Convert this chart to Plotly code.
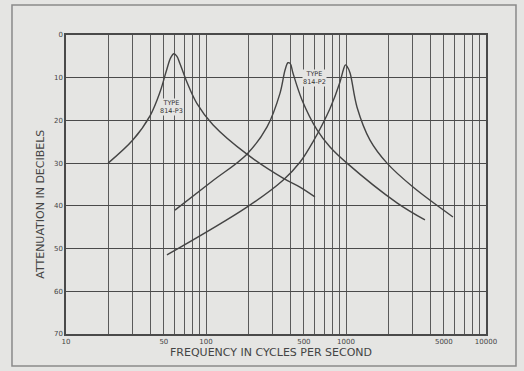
import numpy as np
import plotly.graph_objects as go

# Attenuation curves for three filter types (frequency in c/s, attenuation in dB)
p3_freq = [20, 30, 40, 47, 52, 56, 59, 62, 65, 73, 86, 112, 196, 355, 469, 600]
p3_db = [30.0, 24.6, 18.8, 13.3, 8.5, 5.3, 4.4, 5.0, 6.6, 11.0, 16.0, 21.0, 27.9, 33.5, 35.6, 37.9]

p2_freq = [60, 110, 196, 273, 338, 367, 385, 400, 418, 485, 621, 769, 1016, 2312, 3664]
p2_db = [41.0, 34.3, 27.9, 21.5, 13.6, 8.2, 6.5, 6.7, 8.9, 15.2, 22.2, 26.2, 30.0, 39.3, 43.3]

p1_freq = [52.6, 196, 355, 469, 581, 769, 906, 960, 990, 1020, 1069, 1199, 1484, 1963, 3010, 5808]
p1_db = [51.5, 40.3, 34.0, 29.8, 25.0, 17.2, 11.0, 8.0, 7.0, 7.4, 8.9, 16.9, 24.6, 30.0, 35.6, 42.6]

# Log-paper grid: every integer multiple in each decade, labels only at a few
grid_vals = [m * 10 ** d for d in range(1, 4) for m in range(1, 10)] + [10000]
labelled = {10: "10", 50: "50", 100: "100", 500: "500", 1000: "1000", 5000: "5000", 10000: "10000"}
grid_text = [labelled.get(v, "") for v in grid_vals]

db_ticks = [0, 10, 20, 30, 40, 50, 60, 70]

ink = "#444444"
paper = "#e5e5e3"

fig = go.Figure()
for fx, dy in [(p3_freq, p3_db), (p2_freq, p2_db), (p1_freq, p1_db)]:
    fig.add_trace(go.Scatter(
        x=fx, y=dy, mode="lines",
        line=dict(color=ink, width=1.4, shape="spline", smoothing=1.0),
        hoverinfo="skip", showlegend=False,
    ))

type_font = dict(size=6.5, color="#333333", family="DejaVu Sans")
fig.add_annotation(x=np.log10(57), y=16.9, text="TYPE<br>814-P3", showarrow=False,
                   font=type_font, bgcolor=paper, borderpad=0)
fig.add_annotation(x=np.log10(600), y=10.1, text="TYPE<br>814-P2", showarrow=False,
                   font=type_font, bgcolor=paper, borderpad=0)

# Axis titles
fig.add_annotation(xref="paper", yref="paper", x=-0.06, y=0.435, textangle=-90,
                   xanchor="center", yanchor="middle",
                   text="ATTENUATION IN DECIBELS", showarrow=False,
                   font=dict(size=11, color=ink, family="DejaVu Sans"))
fig.add_annotation(xref="paper", yref="paper", x=0.487, y=-0.063,
                   xanchor="center", yanchor="middle",
                   text="FREQUENCY IN CYCLES PER SECOND", showarrow=False,
                   font=dict(size=11, color=ink, family="DejaVu Sans"))

# Outer frame around the whole figure
fig.add_shape(type="rect", xref="paper", yref="paper",
              x0=-0.1286, x1=1.0714, y0=-0.107, y1=1.1,
              line=dict(color="#8a8a8a", width=1.5), layer="below")

fig.update_xaxes(
    type="log", range=[1, 4],
    tickmode="array", tickvals=grid_vals, ticktext=grid_text,
    showgrid=True, gridcolor="#5a5a5a", gridwidth=1,
    showline=True, linecolor="#4a4a4a", linewidth=1.5, mirror=True,
    ticks="", tickfont=dict(size=7, color=ink, family="DejaVu Sans"),
    zeroline=False,
)
fig.update_yaxes(
    range=[70, 0], tickvals=db_ticks,
    showgrid=True, gridcolor="#4a4a4a", gridwidth=1.2,
    showline=True, linecolor="#4a4a4a", linewidth=1.5, mirror=True,
    ticks="", tickfont=dict(size=7, color=ink, family="DejaVu Sans"),
    zeroline=False,
)

fig.update_layout(
    width=524, height=371,
    margin=dict(l=66, r=38, t=35, b=37),
    paper_bgcolor=paper, plot_bgcolor=paper,
)

fig.write_html("out.html")
